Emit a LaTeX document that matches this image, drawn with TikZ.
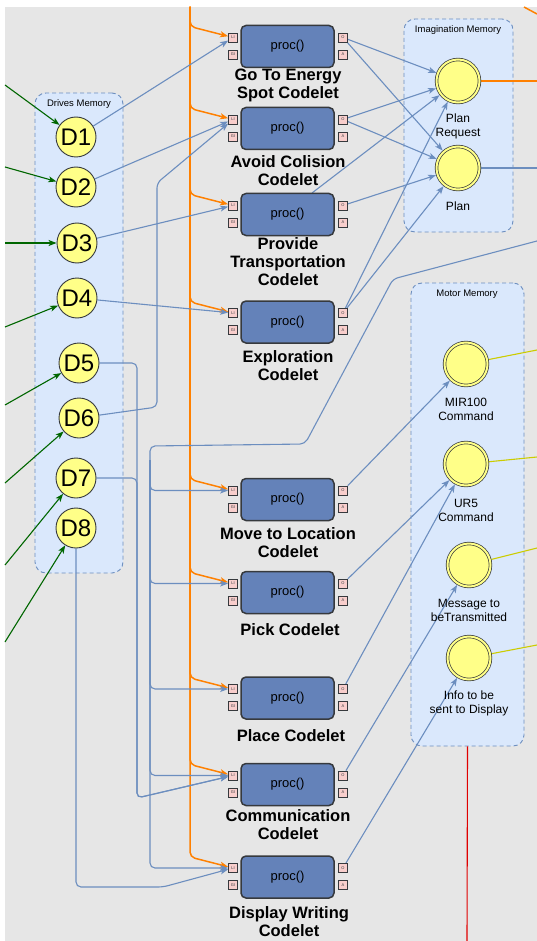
\documentclass[tikz,border=0pt]{standalone}
\usepackage{fontspec}
\setmainfont{Liberation Sans}
\usetikzlibrary{arrows.meta,calc}
\definecolor{bgc}{HTML}{E6E6E6}
\definecolor{memfill}{HTML}{DAE8FC}
\definecolor{memdraw}{HTML}{6C8EBF}
\definecolor{cbox}{HTML}{6482B9}
\definecolor{edgec}{HTML}{36393D}
\definecolor{portfill}{HTML}{F8CECC}
\definecolor{yel}{HTML}{FFFF88}
\definecolor{conn}{HTML}{6C8EBF}
\definecolor{org}{HTML}{FF8000}
\definecolor{grn}{HTML}{006600}
\definecolor{olivec}{HTML}{CCCC00}
\definecolor{redl}{HTML}{E00000}
\pgfdeclarelayer{back}
\pgfdeclarelayer{edges}
\pgfsetlayers{back,edges,main}
\begin{document}
\begin{tikzpicture}[x=1pt,y=-1pt,
  tip/.style={-{Stealth[length=8pt,width=6pt,inset=2pt]}},
  bl/.style={draw=conn, line width=1.1pt, rounded corners=5pt},
  ba/.style={bl, tip},
  ga/.style={draw=grn, line width=1.1pt, tip},
  oa/.style={draw=org, line width=1.5pt, rounded corners=5pt, tip},
  memorybox/.style={draw=memdraw, fill=memfill, line width=0.9pt, dash pattern=on 4pt off 3pt, rounded corners=11pt, inner sep=0pt},
  memtitle/.style={font=\fontsize{9.5}{11}\selectfont, inner sep=0pt},
  codelet/.style={draw=edgec, line width=1.5pt, fill=cbox, rounded corners=5pt, minimum width=93pt, minimum height=42pt, inner sep=0pt, font=\fontsize{13}{15}\selectfont},
  port/.style={draw=edgec, line width=0.7pt, fill=portfill, minimum size=9pt, inner sep=0pt, text=edgec, font=\fontsize{4}{4}\selectfont},
  dnode/.style={circle, draw=edgec, fill=yel, line width=0.9pt, minimum size=40pt, inner sep=0pt, font=\fontsize{24}{26}\selectfont},
  mnode/.style={circle, draw=edgec, fill=yel, line width=0.7pt, double=yel, double distance=2pt, minimum size=43pt, inner sep=0pt, outer sep=1.7pt},
  clabel/.style={align=center, inner sep=0pt, font=\bfseries\fontsize{16.5}{18}\selectfont},
  mlabel/.style={align=center, inner sep=0pt, font=\fontsize{12}{14}\selectfont}
]
\useasboundingbox (0,0) rectangle (537,941);
\begin{pgfonlayer}{back}
  \fill[white] (0,0) rectangle (537,941);
  \fill[bgc] (5,7) rectangle (537,941);
  \node[memorybox, minimum width=88pt, minimum height=480pt] (drives) at (79,333) {};
  \node[memorybox, minimum width=109pt, minimum height=213pt] (imag) at (458.5,125.5) {};
  \node[memorybox, minimum width=113pt, minimum height=463pt] (motor) at (467.5,514.5) {};
  \node[memtitle] (t1) at (79,104) {Drives Memory};
  \node[memtitle] (t2) at (458,30) {Imagination Memory};
  \node[memtitle] (t3) at (467,294) {Motor Memory};
\end{pgfonlayer}

% codelets
\foreach \n/\y in {1/46.5,2/128.5,3/214.5,4/322,5/499.5,6/592.5,7/698,8/784.5,9/877}{
  \node[codelet] (c\n) at (287.5,\y) {proc()};
  \node[port] (c\n-li) at (233,\y-9) {LI};
  \node[port] (c\n-gi) at (233,\y+8) {GI};
  \node[port] (c\n-o) at (343,\y-9) {O};
  \node[port] (c\n-a) at (343,\y+8) {A};
}
\node[clabel] (l1) at (288,85) {Go To Energy\\Spot Codelet};
\node[clabel] (l2) at (288,171) {Avoid Colision\\Codelet};
\node[clabel] (l3) at (288,262) {Provide\\Transportation\\Codelet};
\node[clabel] (l4) at (288,366) {Exploration\\Codelet};
\node[clabel] (l5) at (288,543) {Move to Location\\Codelet};
\node[clabel] (l6) at (290,630) {Pick Codelet};
\node[clabel] (l7) at (291,736) {Place Codelet};
\node[clabel] (l8) at (288,825) {Communication\\Codelet};
\node[clabel] (l9) at (289,922) {Display Writing\\Codelet};

% drives
\node[dnode] (d1) at (76,137) {D1};
\node[dnode] (d2) at (76,187) {D2};
\node[dnode] (d3) at (77,243) {D3};
\node[dnode] (d4) at (77,298) {D4};
\node[dnode] (d5) at (79,363) {D5};
\node[dnode] (d6) at (79,418) {D6};
\node[dnode] (d7) at (76,478) {D7};
\node[dnode] (d8) at (76,528) {D8};

% memory circles
\node[mnode] (pr) at (458,81) {};
\node[mnode] (pl) at (458,168) {};
\node[mnode] (mir) at (466,364) {};
\node[mnode] (ur) at (466,464) {};
\node[mnode] (msg) at (469,565) {};
\node[mnode] (inf) at (469,658) {};
\node[mlabel] (lpr) at (458,126) {Plan\\Request};
\node[mlabel] (lpl) at (458,206) {Plan};
\node[mlabel] (lmir) at (466,409) {MIR100\\Command};
\node[mlabel] (lur) at (466,510) {UR5\\Command};
\node[mlabel] (lmsg) at (469,610) {Message to\\beTransmitted};
\node[mlabel] (linf) at (469,703) {Info to be\\sent to Display};

% free ends
\coordinate (g1) at (5,85);
\coordinate (g2) at (5,167);
\coordinate (g3) at (5,243);
\coordinate (g4) at (5,327);
\coordinate (g5) at (5,405);
\coordinate (g6) at (5,483);
\coordinate (g7) at (5,565);
\coordinate (g8) at (5,642);
\coordinate (otop) at (190,7);
\coordinate (ofrag1) at (524,7);
\coordinate (ofrag2) at (537,14);
\coordinate (pin) at (537,241);
\coordinate (x3) at (312,193);
\coordinate (rpr) at (537,81);
\coordinate (rpl) at (537,168);
\coordinate (rmir) at (537,350);
\coordinate (rur) at (537,457);
\coordinate (rmsg) at (537,548);
\coordinate (rinf) at (537,645);
\coordinate (rbot) at (467,941);

\begin{pgfonlayer}{edges}
  % green inputs
  \draw[ga] (g1) -- (d1);
  \draw[ga] (g2) -- (d2);
  \draw[ga] (g3) -- (d3);
  \draw[ga] (g4) -- (d4);
  \draw[ga] (g5) -- (d5);
  \draw[ga] (g6) -- (d6);
  \draw[ga] (g7) -- (d7);
  \draw[ga] (g8) -- (d8);
  % orange bus
  \foreach \n in {1,...,9}{
    \draw[oa] (otop) -- ($(c\n-li)+(-43,-11)$) -- (c\n-li);
  }
  \draw[draw=org, line width=1.5pt] (ofrag1) -- (ofrag2);
  % drives to codelets
  \draw[ba] (d1) -- (c1-li);
  \draw[ba] (d2) -- (c2-li);
  \draw[ba] (d3) -- (c3-li);
  \draw[ba] (d4) -- (c4-li);
  \draw[ba] (d6) -- (157,407) -- (157,183) -- (c2-li);
  \draw[ba] (d5) -- (137,363) -- (137,798) -- (c8-li);
  \draw[ba] (d7) -- (137,478) -- (137,798) -- (c8-li);
  \draw[ba] (d8) -- (76,887) -- (163,887) -- (c9-li);
  % plan input bus
  \draw[bl] (pin) -- (393,279) -- (305,444) -- (150,446) -- (150,470);
  \draw[ba] (150,460) |- (c5-li);
  \draw[ba] (150,460) |- (c6-li);
  \draw[ba] (150,460) |- (c7-li);
  \draw[ba] (150,460) |- (c8-li);
  \draw[ba] (150,460) |- (c9-li);
  % imagination
  \draw[ba] (c1-o) -- (pr);
  \draw[ba] (c1-o) -- (pl);
  \draw[ba] (c2-o) -- (pr);
  \draw[ba] (c2-o) -- (pl);
  \draw[ba] (x3) -- (pr);
  \draw[ba] (c3-o) -- (pl);
  \draw[ba] (c4-o) -- (pr);
  \draw[ba] (c4-o) -- (pl);
  % motor
  \draw[ba] (c5-o) -- (mir);
  \draw[ba] (c6-o) -- (ur);
  \draw[ba] (c7-o) -- (ur);
  \draw[ba] (c8-o) -- (msg);
  \draw[ba] (c9-o) -- (inf);
  % outputs
  \draw[draw=org, line width=1.3pt] (pr) -- (rpr);
  \draw[draw=conn, line width=1.3pt] (pl) -- (rpl);
  \draw[draw=olivec, line width=1.1pt] (mir) -- (rmir);
  \draw[draw=olivec, line width=1.1pt] (ur) -- (rur);
  \draw[draw=olivec, line width=1.1pt] (msg) -- (rmsg);
  \draw[draw=olivec, line width=1.1pt] (inf) -- (rinf);
  \draw[draw=redl, line width=1.1pt] (motor.south) -- (rbot);
\end{pgfonlayer}
\end{tikzpicture}
\end{document}
